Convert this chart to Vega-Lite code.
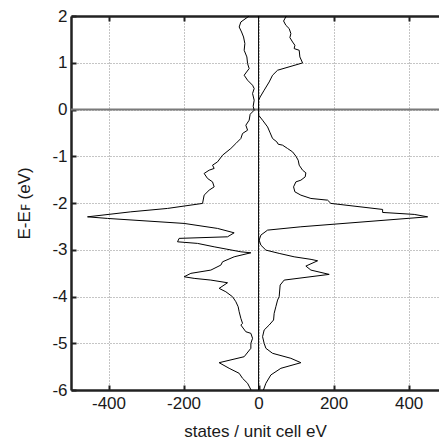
{
  "$schema": "https://vega.github.io/schema/vega-lite/v6.json",
  "autosize": {"type": "none"},
  "padding": {"left": 71, "top": 16, "right": 0, "bottom": 55},
  "width": 368,
  "height": 374,
  "config": {
    "font": "Liberation Sans",
    "view": {"stroke": null},
    "axis": {
      "labelFont": "Liberation Sans",
      "titleFont": "Liberation Sans",
      "labelFontSize": 17,
      "titleFontSize": 17,
      "titleFontWeight": "normal",
      "labelColor": "#1a1a1a",
      "titleColor": "#1a1a1a",
      "domainColor": "#222222",
      "domainWidth": 2.5,
      "tickColor": "#222222",
      "tickWidth": 2,
      "tickSize": -5,
      "gridColor": "#8a8a8a",
      "gridDash": [1, 2],
      "gridWidth": 1,
      "gridOpacity": 1
    }
  },
  "datasets": {
    "dos": [
      {"E": 2.0, "v": 74, "s": "up"},
      {"E": 1.893, "v": 66.7, "s": "up"},
      {"E": 1.801, "v": 72.8, "s": "up"},
      {"E": 1.731, "v": 81.6, "s": "up"},
      {"E": 1.624, "v": 86.1, "s": "up"},
      {"E": 1.538, "v": 83.5, "s": "up"},
      {"E": 1.444, "v": 90.7, "s": "up"},
      {"E": 1.374, "v": 96.8, "s": "up"},
      {"E": 1.303, "v": 94.9, "s": "up"},
      {"E": 1.267, "v": 108.3, "s": "up"},
      {"E": 1.124, "v": 110.1, "s": "up"},
      {"E": 0.996, "v": 117.3, "s": "up"},
      {"E": 0.84, "v": 50.7, "s": "up"},
      {"E": 0.733, "v": 37.3, "s": "up"},
      {"E": 0.589, "v": 28.3, "s": "up"},
      {"E": 0.412, "v": 14.9, "s": "up"},
      {"E": 0.269, "v": 4.3, "s": "up"},
      {"E": 0.198, "v": 0, "s": "up"},
      {"E": -0.12, "v": 0, "s": "up"},
      {"E": -0.229, "v": 10.7, "s": "up"},
      {"E": -0.372, "v": 24, "s": "up"},
      {"E": -0.5, "v": 30.9, "s": "up"},
      {"E": -0.62, "v": 37.3, "s": "up"},
      {"E": -0.693, "v": 48.8, "s": "up"},
      {"E": -0.742, "v": 52.3, "s": "up"},
      {"E": -0.763, "v": 64, "s": "up"},
      {"E": -0.834, "v": 77.3, "s": "up"},
      {"E": -0.907, "v": 90.7, "s": "up"},
      {"E": -0.998, "v": 99.5, "s": "up"},
      {"E": -1.084, "v": 105.6, "s": "up"},
      {"E": -1.191, "v": 108.3, "s": "up"},
      {"E": -1.298, "v": 117.3, "s": "up"},
      {"E": -1.355, "v": 126.1, "s": "up"},
      {"E": -1.441, "v": 124.3, "s": "up"},
      {"E": -1.512, "v": 112.8, "s": "up"},
      {"E": -1.548, "v": 99.5, "s": "up"},
      {"E": -1.655, "v": 93.3, "s": "up"},
      {"E": -1.761, "v": 96.8, "s": "up"},
      {"E": -1.832, "v": 112.8, "s": "up"},
      {"E": -1.903, "v": 139.5, "s": "up"},
      {"E": -1.939, "v": 184, "s": "up"},
      {"E": -2.009, "v": 192.8, "s": "up"},
      {"E": -2.138, "v": 330.7, "s": "up"},
      {"E": -2.202, "v": 330.7, "s": "up"},
      {"E": -2.244, "v": 415, "s": "up"},
      {"E": -2.296, "v": 450.7, "s": "up"},
      {"E": -2.509, "v": 112.8, "s": "up"},
      {"E": -2.58, "v": 24, "s": "up"},
      {"E": -2.687, "v": 6.1, "s": "up"},
      {"E": -2.794, "v": 1.6, "s": "up"},
      {"E": -2.901, "v": 6.1, "s": "up"},
      {"E": -3.008, "v": 19.5, "s": "up"},
      {"E": -3.078, "v": 54.9, "s": "up"},
      {"E": -3.151, "v": 94.9, "s": "up"},
      {"E": -3.206, "v": 140, "s": "up"},
      {"E": -3.236, "v": 157.4, "s": "up"},
      {"E": -3.349, "v": 126.1, "s": "up"},
      {"E": -3.435, "v": 139.5, "s": "up"},
      {"E": -3.527, "v": 188.3, "s": "up"},
      {"E": -3.649, "v": 68.3, "s": "up"},
      {"E": -3.755, "v": 57.6, "s": "up"},
      {"E": -4.005, "v": 54.9, "s": "up"},
      {"E": -4.076, "v": 50.7, "s": "up"},
      {"E": -4.219, "v": 46.1, "s": "up"},
      {"E": -4.36, "v": 41.6, "s": "up"},
      {"E": -4.503, "v": 40, "s": "up"},
      {"E": -4.61, "v": 28.3, "s": "up"},
      {"E": -4.717, "v": 14.9, "s": "up"},
      {"E": -4.86, "v": 10.7, "s": "up"},
      {"E": -5.001, "v": 14.9, "s": "up"},
      {"E": -5.108, "v": 19.5, "s": "up"},
      {"E": -5.215, "v": 37.3, "s": "up"},
      {"E": -5.322, "v": 86.1, "s": "up"},
      {"E": -5.416, "v": 112.8, "s": "up"},
      {"E": -5.536, "v": 59.5, "s": "up"},
      {"E": -5.678, "v": 32.8, "s": "up"},
      {"E": -5.856, "v": 19.5, "s": "up"},
      {"E": -6.0, "v": 13, "s": "up"},
      {"E": 2.0, "v": -25, "s": "down"},
      {"E": 1.872, "v": -47.2, "s": "down"},
      {"E": 1.765, "v": -51.7, "s": "down"},
      {"E": 1.658, "v": -45.3, "s": "down"},
      {"E": 1.551, "v": -40, "s": "down"},
      {"E": 1.41, "v": -36.5, "s": "down"},
      {"E": 1.267, "v": -38.4, "s": "down"},
      {"E": 1.124, "v": -31.2, "s": "down"},
      {"E": 0.983, "v": -29.3, "s": "down"},
      {"E": 0.876, "v": -25.1, "s": "down"},
      {"E": 0.733, "v": -38.4, "s": "down"},
      {"E": 0.626, "v": -29.3, "s": "down"},
      {"E": 0.519, "v": -16, "s": "down"},
      {"E": 0.448, "v": -11.7, "s": "down"},
      {"E": 0.342, "v": -16, "s": "down"},
      {"E": 0.198, "v": -11.7, "s": "down"},
      {"E": 0.07, "v": -14.4, "s": "down"},
      {"E": -0.015, "v": -11.7, "s": "down"},
      {"E": -0.101, "v": -22.4, "s": "down"},
      {"E": -0.229, "v": -25.1, "s": "down"},
      {"E": -0.336, "v": -33.9, "s": "down"},
      {"E": -0.443, "v": -29.3, "s": "down"},
      {"E": -0.513, "v": -42.7, "s": "down"},
      {"E": -0.62, "v": -47.2, "s": "down"},
      {"E": -0.727, "v": -60.5, "s": "down"},
      {"E": -0.834, "v": -73.9, "s": "down"},
      {"E": -0.977, "v": -96, "s": "down"},
      {"E": -1.12, "v": -109.3, "s": "down"},
      {"E": -1.191, "v": -122.7, "s": "down"},
      {"E": -1.261, "v": -118.4, "s": "down"},
      {"E": -1.298, "v": -131.7, "s": "down"},
      {"E": -1.368, "v": -145.1, "s": "down"},
      {"E": -1.475, "v": -136, "s": "down"},
      {"E": -1.548, "v": -122.7, "s": "down"},
      {"E": -1.655, "v": -118.4, "s": "down"},
      {"E": -1.725, "v": -131.7, "s": "down"},
      {"E": -1.832, "v": -145.1, "s": "down"},
      {"E": -2.009, "v": -149.3, "s": "down"},
      {"E": -2.116, "v": -242.7, "s": "down"},
      {"E": -2.189, "v": -340.6, "s": "down"},
      {"E": -2.296, "v": -456, "s": "down"},
      {"E": -2.33, "v": -402.7, "s": "down"},
      {"E": -2.437, "v": -198.4, "s": "down"},
      {"E": -2.544, "v": -109.3, "s": "down"},
      {"E": -2.638, "v": -65.1, "s": "down"},
      {"E": -2.723, "v": -82.7, "s": "down"},
      {"E": -2.757, "v": -211.8, "s": "down"},
      {"E": -2.83, "v": -216, "s": "down"},
      {"E": -2.864, "v": -162.7, "s": "down"},
      {"E": -2.937, "v": -118.4, "s": "down"},
      {"E": -3.044, "v": -47.2, "s": "down"},
      {"E": -3.065, "v": -20.5, "s": "down"},
      {"E": -3.151, "v": -65.1, "s": "down"},
      {"E": -3.258, "v": -96, "s": "down"},
      {"E": -3.328, "v": -100.5, "s": "down"},
      {"E": -3.435, "v": -127.2, "s": "down"},
      {"E": -3.505, "v": -180.5, "s": "down"},
      {"E": -3.578, "v": -198.4, "s": "down"},
      {"E": -3.612, "v": -171.7, "s": "down"},
      {"E": -3.649, "v": -127.2, "s": "down"},
      {"E": -3.706, "v": -82.7, "s": "down"},
      {"E": -3.826, "v": -105.1, "s": "down"},
      {"E": -3.899, "v": -87.2, "s": "down"},
      {"E": -4.006, "v": -69.3, "s": "down"},
      {"E": -4.112, "v": -60.5, "s": "down"},
      {"E": -4.219, "v": -54.4, "s": "down"},
      {"E": -4.326, "v": -51.7, "s": "down"},
      {"E": -4.467, "v": -47.2, "s": "down"},
      {"E": -4.574, "v": -42.7, "s": "down"},
      {"E": -4.61, "v": -47.2, "s": "down"},
      {"E": -4.754, "v": -33.9, "s": "down"},
      {"E": -4.788, "v": -20.5, "s": "down"},
      {"E": -4.895, "v": -16, "s": "down"},
      {"E": -5.001, "v": -20.5, "s": "down"},
      {"E": -5.108, "v": -20.5, "s": "down"},
      {"E": -5.288, "v": -38.4, "s": "down"},
      {"E": -5.416, "v": -105.1, "s": "down"},
      {"E": -5.536, "v": -78.4, "s": "down"},
      {"E": -5.643, "v": -51.7, "s": "down"},
      {"E": -5.75, "v": -42.7, "s": "down"},
      {"E": -5.856, "v": -29.3, "s": "down"},
      {"E": -6.0, "v": -20, "s": "down"}
    ],
    "refs": [{"E": 0, "v": 0}]
  },
  "resolve": {"axis": {"x": "independent"}},
  "layer": [
    {
      "data": {"name": "refs"},
      "mark": {"type": "rule", "color": "#7a7a7a", "strokeWidth": 2},
      "encoding": {
        "y": {"field": "E", "type": "quantitative", "scale": {"domain": [-6, 2], "nice": false, "zero": false},
          "axis": {"values": [-6, -5, -4, -3, -2, -1, 0, 1, 2], "labelExpr": "'' + datum.value", "title": "E-Eꜰ (eV)", "titlePadding": 18, "labelPadding": 9, "grid": true}}
      }
    },
    {
      "data": {"name": "refs"},
      "mark": {"type": "rule", "color": "#000000", "strokeWidth": 1},
      "encoding": {
        "x": {"field": "v", "type": "quantitative", "scale": {"domain": [-500, 481], "nice": false, "zero": false},
          "axis": {"orient": "bottom", "values": [-400, -200, 0, 200, 400], "labelExpr": "'' + datum.value", "title": "states / unit cell eV", "titlePadding": 12, "labelPadding": 10, "grid": true, "gridDash": [1, 2]}}
      }
    },
    {
      "data": {"name": "dos"},
      "mark": {"type": "line", "color": "#000000", "strokeWidth": 1, "clip": true},
      "encoding": {
        "x": {"field": "v", "type": "quantitative",
          "axis": {"orient": "top", "values": [-400, -200, 200, 400], "labels": false, "title": null, "grid": false, "domain": true}},
        "y": {"field": "E", "type": "quantitative"},
        "detail": {"field": "s"},
        "order": {"field": "E", "type": "quantitative"}
      }
    }
  ]
}
